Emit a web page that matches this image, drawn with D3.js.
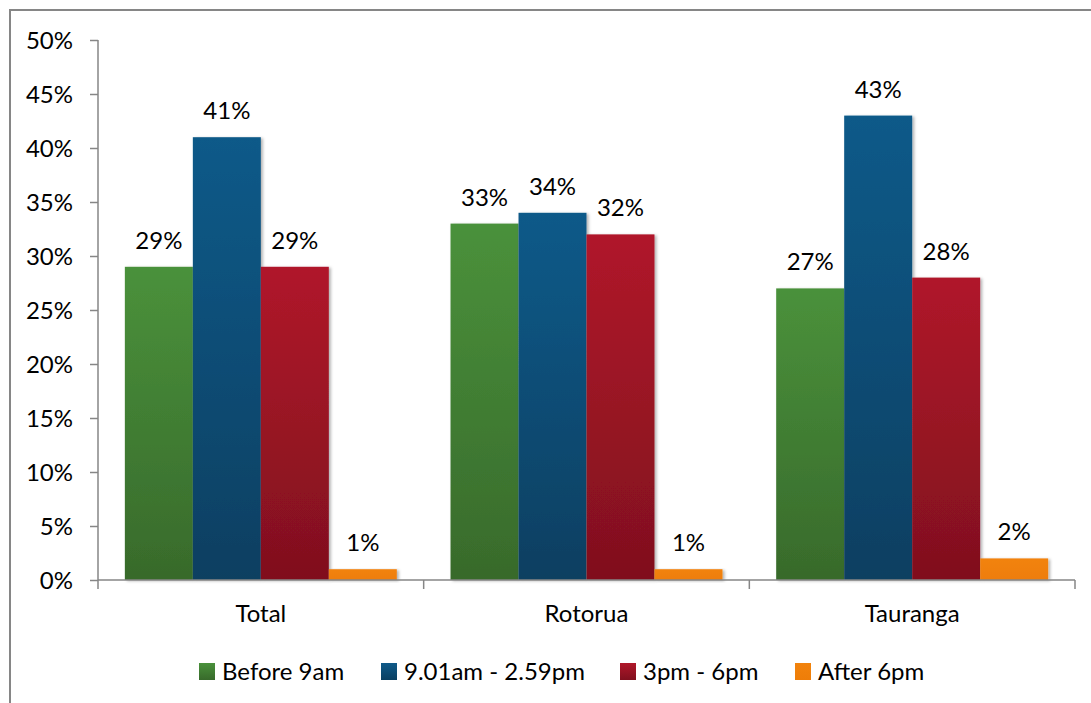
<!DOCTYPE html>
<html>
<head>
<meta charset="utf-8">
<script src="https://cdn.jsdelivr.net/npm/d3@7"></script>
<style>
  body { margin: 0; background: #fff; }
  text { font-family: Lato, "Open Sans", sans-serif; fill: #000; }
</style>
</head>
<body>
<div id="chart-area"></div>
<script>
var categories = ["Total", "Rotorua", "Tauranga"];
var series = ["Before 9am", "9.01am - 2.59pm", "3pm - 6pm", "After 6pm"];
var beforeNine = [29, 33, 27];
var midDay = [41, 34, 43];
var afternoon = [29, 32, 28];
var evening = [1, 1, 2];
var yTicks = [0, 5, 10, 15, 20, 25, 30, 35, 40, 45, 50];

var colors = {
  "Before 9am": ["#4a913b", "#386a2b"],
  "9.01am - 2.59pm": ["#0f5a89", "#0a3f61"],
  "3pm - 6pm": ["#b0172a", "#80101e"],
  "After 6pm": ["#f2830c", "#ee7d08"]
};

var values = [beforeNine, midDay, afternoon, evening];
var data = categories.map(function(c, i) {
  return { cat: c, vals: series.map(function(s, j) { return { key: s, value: values[j][i] }; }) };
});

var W = 1091, H = 703;
var plotLeft = 98, plotRight = 1075, plotTop = 40, plotBottom = 580;
var fs = "24px";

var svg = d3.select("#chart-area").append("svg")
  .attr("width", W)
  .attr("height", H);

var defs = svg.append("defs");
series.forEach(function(s, i) {
  var g = defs.append("linearGradient")
    .attr("id", "grad" + i)
    .attr("x1", 0).attr("y1", 0).attr("x2", 0).attr("y2", 1);
  g.append("stop").attr("offset", "0%").attr("stop-color", colors[s][0]);
  g.append("stop").attr("offset", "100%").attr("stop-color", colors[s][1]);
});
var f = defs.append("filter").attr("id", "shadow")
  .attr("x", "-10%").attr("y", "-10%").attr("width", "130%").attr("height", "130%");
f.append("feDropShadow")
  .attr("dx", 2).attr("dy", 1).attr("stdDeviation", 1.5)
  .attr("flood-color", "#000").attr("flood-opacity", 0.3);

// outer frame
svg.append("rect")
  .attr("x", 10).attr("y", 10)
  .attr("width", W + 20).attr("height", H + 20)
  .attr("fill", "none")
  .attr("stroke", "#868686")
  .attr("stroke-width", 2);

var x0 = d3.scaleBand()
  .domain(categories)
  .range([plotLeft, plotRight])
  .padding(0);

var x1 = d3.scaleBand()
  .domain(series)
  .range([0, x0.bandwidth()])
  .paddingInner(0)
  .paddingOuter(0.395);

var y = d3.scaleLinear()
  .domain([0, 50])
  .range([plotBottom, plotTop]);

// y axis
var yAxis = svg.append("g")
  .attr("transform", "translate(" + plotLeft + ",0)")
  .call(d3.axisLeft(y).tickValues(yTicks).tickSize(8).tickPadding(17)
    .tickFormat(function(d) { return d + "%"; }));
yAxis.selectAll("path, line").attr("stroke", "#868686").attr("stroke-width", 1.5);
yAxis.select(".domain").attr("d", "M0," + plotTop + "V" + plotBottom);
yAxis.selectAll("text")
  .attr("font-family", "Lato, sans-serif")
  .attr("font-size", fs)
  .attr("dy", "0.36em")
  .attr("fill", "#000");

// bars
var groups = svg.selectAll(".grp")
  .data(data)
  .enter()
  .append("g")
    .attr("class", "grp")
    .attr("transform", function(d) { return "translate(" + x0(d.cat) + ",0)"; });

groups.selectAll("rect")
  .data(function(d) { return d.vals; })
  .enter()
  .append("rect")
    .attr("x", function(d) { return x1(d.key); })
    .attr("y", function(d) { return y(d.value); })
    .attr("width", x1.bandwidth())
    .attr("height", function(d) { return plotBottom - y(d.value); })
    .attr("fill", function(d) { return "url(#grad" + series.indexOf(d.key) + ")"; })
    .attr("filter", "url(#shadow)");

groups.selectAll(".lbl")
  .data(function(d) { return d.vals; })
  .enter()
  .append("text")
    .attr("class", "lbl")
    .attr("x", function(d) { return x1(d.key) + x1.bandwidth() / 2; })
    .attr("y", function(d) { return y(d.value) - 18; })
    .attr("text-anchor", "middle")
    .attr("font-size", fs)
    .text(function(d) { return d.value + "%"; });

// x axis
var xAxis = svg.append("g")
  .attr("transform", "translate(0," + plotBottom + ")");
xAxis.append("line")
  .attr("x1", plotLeft).attr("x2", plotRight)
  .attr("stroke", "#868686").attr("stroke-width", 1.5);
xAxis.selectAll(".tk")
  .data(categories.concat(["end"]))
  .enter()
  .append("line")
    .attr("class", "tk")
    .attr("x1", function(d) { return d === "end" ? plotRight : x0(d); })
    .attr("x2", function(d) { return d === "end" ? plotRight : x0(d); })
    .attr("y1", 0).attr("y2", 9)
    .attr("stroke", "#868686").attr("stroke-width", 1.5);
xAxis.selectAll(".cat")
  .data(categories)
  .enter()
  .append("text")
    .attr("class", "cat")
    .attr("x", function(d) { return x0(d) + x0.bandwidth() / 2; })
    .attr("y", 42)
    .attr("text-anchor", "middle")
    .attr("font-size", fs)
    .text(function(d) { return d; });

// legend
var legendX = [199, 381, 620, 795];
var legend = svg.selectAll(".leg")
  .data(series)
  .enter()
  .append("g")
    .attr("class", "leg")
    .attr("transform", function(d, i) { return "translate(" + legendX[i] + ",663)"; });
legend.append("rect")
  .attr("width", 16).attr("height", 17)
  .attr("fill", function(d, i) { return "url(#grad" + i + ")"; });
legend.append("text")
  .attr("x", 23)
  .attr("y", 17)
  .attr("font-size", fs)
  .text(function(d) { return d; });
</script>
</body>
</html>
